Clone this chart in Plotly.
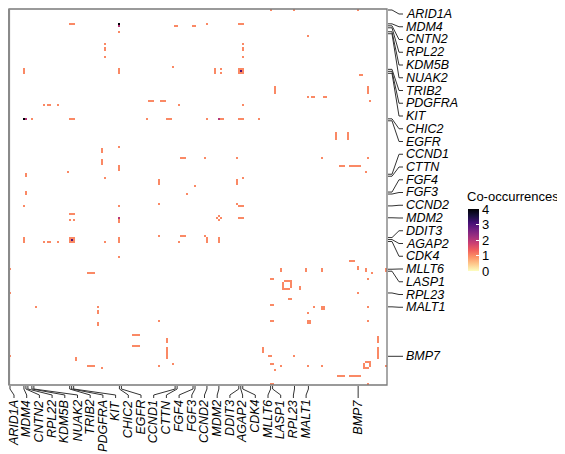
import numpy as np
import plotly.graph_objects as go

N = 190  # genes in the co-occurrence matrix

# labelled genes and their matrix index
genes = ["ARID1A", "MDM4", "CNTN2", "RPL22", "KDM5B", "NUAK2", "TRIB2", "PDGFRA", "KIT",
         "CHIC2", "EGFR", "CCND1", "CTTN", "FGF4", "FGF3", "CCND2", "MDM2", "DDIT3",
         "AGAP2", "CDK4", "MLLT6", "LASP1", "RPL23", "MALT1", "BMP7"]
gene_idx = [0, 7, 8, 9, 11, 12, 30, 31, 32, 55, 56, 83, 84, 92, 93, 99, 105, 115,
            116, 117, 131, 132, 143, 150, 175]

# upper-triangle blocks of co-occurrence counts: rows r0..r1, cols c0..c1
r0 = [7, 7, 8, 11, 8, 8, 17, 19, 24, 29, 30, 46, 46, 48, 55, 55, 75, 89, 0, 0, 0, 7, 7, 13,
      17, 19, 24, 30, 30, 32, 30, 31, 33, 39, 39, 46, 44, 44, 44, 48, 55, 55, 55, 55, 55, 55,
      62, 62, 75, 75, 75, 75, 79, 79, 82, 85, 86, 98, 99, 104, 105, 105,
      127, 130, 131, 131, 131, 131, 133, 131, 137, 138, 140, 136, 143, 150, 150, 150, 157,
      165, 171, 178, 179, 180]
r1 = [7, 7, 8, 11, 8, 8, 17, 20, 24, 29, 32, 46, 46, 48, 55, 55, 75, 89, 0, 0, 0, 7, 7, 13,
      17, 20, 24, 32, 30, 32, 32, 31, 33, 42, 42, 46, 44, 44, 44, 48, 55, 55, 55, 55, 55, 55,
      65, 65, 75, 75, 75, 75, 79, 79, 82, 85, 88, 98, 99, 104, 105, 105,
      127, 131, 132, 132, 132, 132, 133, 132, 137, 140, 141, 136, 143, 150, 151, 150, 157,
      168, 176, 178, 180, 180]
c0 = [30, 55, 55, 55, 83, 92, 48, 48, 48, 82, 55, 70, 76, 85, 69, 79, 86, 93, 131, 143, 175, 99, 115, 150,
      117, 117, 117, 103, 106, 106, 115, 116, 176, 133, 180, 181, 150, 152, 158, 117, 99, 105, 105, 115, 125, 107,
      164, 170, 98, 114, 157, 180, 166, 171, 179, 117, 114, 114, 115, 105, 106, 115,
      171, 175, 136, 149, 157, 179, 182, 189, 138, 141, 146, 180, 175, 153, 157, 180, 180,
      185, 185, 179, 181, 189]
c1 = [32, 55, 55, 55, 84, 93, 48, 48, 48, 82, 55, 72, 78, 85, 69, 81, 88, 93, 131, 143, 175, 99, 117, 150,
      117, 117, 117, 103, 106, 106, 117, 116, 177, 133, 180, 181, 150, 153, 159, 117, 99, 107, 105, 117, 125, 107,
      164, 170, 98, 114, 157, 180, 168, 176, 179, 117, 114, 114, 117, 105, 106, 117,
      173, 175, 136, 149, 157, 179, 182, 189, 141, 141, 146, 180, 175, 153, 158, 180, 180,
      185, 185, 181, 181, 189]
vals = [1, 4, 2, 1, 1, 1, 1, 1, 1, 1, 1, 1, 1, 1, 1, 1, 1, 1, 1, 1, 1, 1, 1, 1,
        1, 1, 1, 1, 1, 1, 1, 3, 1, 1, 1, 1, 1, 1, 1, 1, 1, 1, 2, 1, 1, 1,
        1, 1, 1, 1, 1, 1, 1, 1, 1, 1, 1, 1, 1, 1, 1, 1,
        1, 1, 1, 1, 1, 1, 1, 1, 1, 1, 1, 1, 1, 1, 1, 1, 1,
        1, 1, 1, 1, 1]

legend_title = "Co-occurrences"
legend_ticks = [0, 1, 2, 3, 4]

z = np.full((N, N), np.nan)
for a, b, c, d, v in zip(r0, r1, c0, c1, vals):
    z[a:b + 1, c:d + 1] = v
    z[c:d + 1, a:b + 1] = v

# ---- geometry ----
# The page body adds an 8 px margin, so the figure's own pixel (0,0) sits at page (8,8).
OFF = 8
W, H = 565 - OFF, 454 - OFF
# plot area in page pixels
PL, PR, PT, PB = 9, 387, 9, 385
pw, ph = PR - PL, PB - PT

def xp(px):   # page pixel -> paper fraction
    return (px - PL) / pw

def yp(py):
    return (PB - py) / ph

FONT = "Liberation Sans, Arial, sans-serif"
LAB = dict(size=12.5, family=FONT, color="#000")

fig = go.Figure(go.Heatmap(
    z=z, x=np.arange(N), y=np.arange(N),
    colorscale="Magma", reversescale=True, zmin=0, zmax=4,
    hoverongaps=False,
    colorbar=dict(
        x=xp(468), xanchor="left", y=yp(209), yanchor="top",
        len=62, lenmode="pixels", thickness=11, xpad=0, ypad=0,
        outlinewidth=0, tickvals=legend_ticks,
        ticks="inside", ticklen=3, tickcolor="white", tickwidth=1,
        tickfont=dict(size=13, family=FONT, color="#000"),
    ),
))

shapes = [
    dict(type="rect", xref="paper", yref="paper", x0=0, x1=1, y0=0, y1=1,
         line=dict(color="#7a7a7a", width=1.3), fillcolor="rgba(0,0,0,0)", layer="above"),
    dict(type="line", xref="paper", yref="paper", x0=0, x1=0, y0=0, y1=1,
         line=dict(color="#8a8a8a", width=2.2), layer="above"),
]
annotations = [dict(xref="paper", yref="paper", x=xp(466), y=yp(196), text=legend_title,
                    showarrow=False, xanchor="left", yanchor="middle", borderpad=0,
                    font=dict(size=13, family=FONT, color="#000"))]
line_style = dict(color="#333333", width=1)
n_chain = len(genes) - 1
for k, (g, gi) in enumerate(zip(genes, gene_idx)):
    a_frac = (gi + 0.5) / N
    # right side
    ay = 1 - a_frac
    ly = yp(14 + 12.75 * k) if k < n_chain else ay
    shapes.append(dict(type="path", xref="paper", yref="paper",
                       path=f"M {xp(388)},{ay} L {xp(392)},{ay} L {xp(399)},{ly} L {xp(403)},{ly}",
                       line=line_style))
    annotations.append(dict(xref="paper", yref="paper", x=xp(405), y=ly, text=f"<i>{g}</i>",
                            showarrow=False, xanchor="left", yanchor="middle", borderpad=0,
                            font=LAB))
    # bottom side
    ax = a_frac
    lx = xp(14 + 12.7 * k) if k < n_chain else ax
    shapes.append(dict(type="path", xref="paper", yref="paper",
                       path=f"M {ax},{yp(386)} L {ax},{yp(389)} L {lx},{yp(395)} L {lx},{yp(398)}",
                       line=line_style))
    annotations.append(dict(xref="paper", yref="paper", x=lx, y=yp(399), text=f"<i>{g}</i>",
                            showarrow=False, xanchor="center", yanchor="top", textangle=-90,
                            borderpad=0, font=LAB))

axis_common = dict(showticklabels=False, ticks="", showgrid=False, zeroline=False,
                   showline=False)
fig.update_layout(
    width=W, height=H,
    margin=dict(l=PL - OFF, r=W - (PR - OFF), t=PT - OFF, b=H - (PB - OFF), pad=0,
                autoexpand=False),
    paper_bgcolor="white", plot_bgcolor="white",
    xaxis=dict(range=[-0.5, N - 0.5], **axis_common),
    yaxis=dict(range=[N - 0.5, -0.5], **axis_common),
    shapes=shapes, annotations=annotations,
    showlegend=False,
)
fig.write_html("out.html")
